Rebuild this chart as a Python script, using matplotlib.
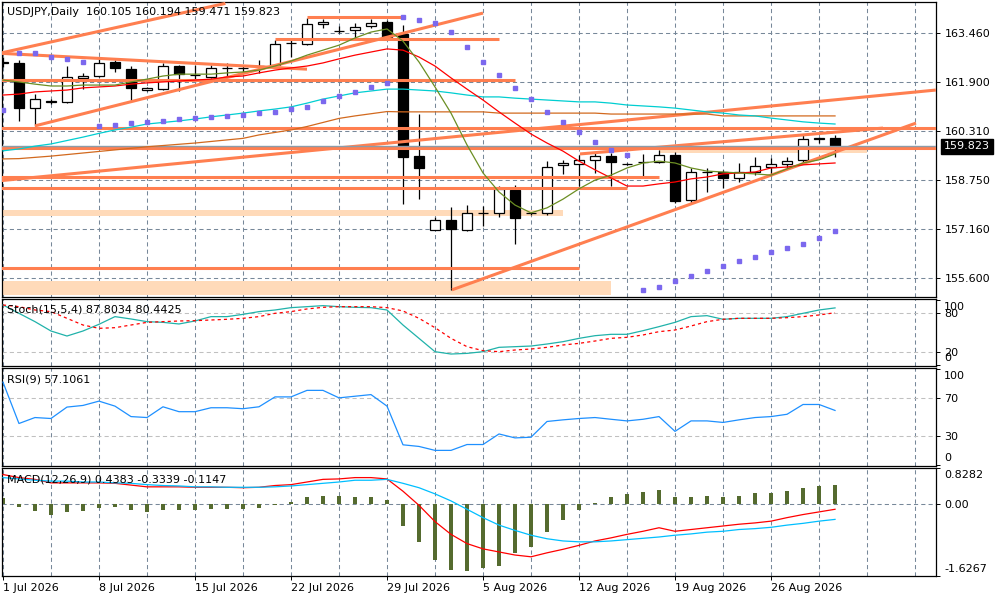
import matplotlib
matplotlib.use("Agg")
import matplotlib.pyplot as plt
import numpy as np

plt.rcParams['font.family'] = ['DejaVu Sans']
plt.rcParams['font.size'] = 8

# ---- values (one entry per daily bar) ----
opens = [162.53, 162.50, 161.05, 161.25, 161.25, 162.02, 162.08, 162.53, 162.31, 161.63,
         161.66, 162.40, 162.11, 162.05, 162.34, 162.33, 162.40, 162.43, 163.14, 163.11,
         163.75, 163.53, 163.56, 163.68, 163.81, 163.43, 159.51, 157.14, 157.46, 157.14,
         157.69, 157.69, 158.42, 157.67, 157.69, 159.23, 159.26, 159.39, 159.51, 159.26,
         159.32, 159.32, 159.55, 158.10, 159.00, 159.00, 158.81, 159.00, 159.16, 159.26,
         159.39, 160.06, 160.105]
highs = [162.69, 162.59, 161.50, 161.34, 162.40, 162.18, 162.69, 162.59, 162.40, 161.72,
         162.50, 162.43, 162.43, 162.43, 162.50, 162.43, 162.59, 163.24, 163.27, 163.94,
         163.91, 163.68, 163.78, 163.91, 163.88, 163.72, 160.86, 157.56, 157.88, 157.94,
         157.91, 158.55, 158.58, 157.72, 159.35, 159.39, 159.55, 159.61, 159.61, 159.30,
         159.58, 159.71, 159.64, 159.13, 159.13, 159.07, 159.29, 159.48, 159.45, 159.48,
         160.19, 160.12, 160.194]
lows = [162.37, 160.64, 160.48, 161.18, 161.22, 161.66, 162.06, 162.21, 161.28, 161.60,
        161.64, 161.60, 161.95, 162.03, 162.08, 162.21, 162.18, 162.41, 162.69, 163.09,
        163.62, 163.46, 163.30, 163.62, 163.30, 157.97, 158.13, 157.13, 155.22, 157.12,
        157.27, 157.56, 156.69, 157.62, 157.62, 158.94, 158.55, 158.97, 158.55, 159.22,
        158.87, 159.29, 158.01, 158.01, 158.36, 158.49, 158.68, 158.90, 158.87, 159.13,
        159.32, 159.93, 159.471]
closes = [162.50, 161.05, 161.34, 161.27, 162.05, 162.08, 162.50, 162.34, 161.70, 161.70,
          162.40, 162.14, 162.12, 162.34, 162.35, 162.34, 162.41, 163.11, 163.15, 163.75,
          163.81, 163.52, 163.65, 163.78, 163.33, 159.48, 159.13, 157.46, 157.17, 157.69,
          157.70, 158.46, 157.53, 157.69, 159.16, 159.29, 159.39, 159.51, 159.32, 159.27,
          159.33, 159.55, 158.07, 159.00, 159.01, 158.81, 159.00, 159.19, 159.26, 159.35,
          160.06, 160.10, 159.823]

ma_fast = [161.95, 161.89, 161.82, 161.76, 161.76, 161.79, 161.79, 161.79, 161.89, 161.98,
           162.08, 162.14, 162.14, 162.14, 162.18, 162.21, 162.27, 162.40, 162.56, 162.75,
           162.91, 163.07, 163.30, 163.49, 163.59, 163.20, 162.53, 161.73, 160.89, 159.87,
           158.97, 158.36, 157.94, 157.69, 157.85, 158.13, 158.46, 158.74, 158.90, 159.13,
           159.29, 159.35, 159.29, 159.13, 159.03, 159.00, 158.97, 158.94, 158.90, 159.10,
           159.29, 159.39, 159.58]
ma_mid = [161.47, 161.50, 161.57, 161.60, 161.63, 161.70, 161.73, 161.76, 161.82, 161.86,
          161.89, 161.92, 161.95, 161.98, 162.05, 162.08, 162.18, 162.27, 162.34, 162.40,
          162.50, 162.63, 162.75, 162.85, 162.95, 162.91, 162.69, 162.40, 162.02, 161.66,
          161.31, 160.93, 160.57, 160.22, 159.93, 159.67, 159.35, 159.07, 158.81, 158.55,
          158.55, 158.62, 158.68, 158.78, 158.84, 158.94, 158.97, 159.00, 159.13, 159.16,
          159.23, 159.26, 159.29]
ma_slow = [159.68, 159.74, 159.83, 159.90, 160.01, 160.12, 160.24, 160.35, 160.44, 160.54,
           160.59, 160.64, 160.70, 160.77, 160.83, 160.89, 160.96, 161.02, 161.09, 161.21,
           161.34, 161.44, 161.54, 161.60, 161.66, 161.66, 161.63, 161.60, 161.54, 161.47,
           161.41, 161.41, 161.37, 161.34, 161.31, 161.28, 161.25, 161.25, 161.21, 161.15,
           161.12, 161.09, 161.05, 160.99, 160.93, 160.89, 160.83, 160.80, 160.73, 160.67,
           160.61, 160.57, 160.54]
ma_slowest = [159.42, 159.43, 159.47, 159.51, 159.56, 159.61, 159.66, 159.71, 159.76, 159.81,
              159.85, 159.89, 159.93, 159.98, 160.03, 160.08, 160.19, 160.27, 160.35, 160.46,
              160.59, 160.72, 160.80, 160.87, 160.94, 160.93, 160.93, 160.93, 160.93, 160.93,
              160.93, 160.89, 160.89, 160.89, 160.89, 160.89, 160.89, 160.89, 160.86, 160.86,
              160.86, 160.86, 160.86, 160.86, 160.86, 160.80, 160.80, 160.80, 160.80, 160.80,
              160.80, 160.80, 160.80]
sar = [160.99, 162.82, 162.82, 162.69, 162.63, 162.53, 160.48, 160.51, 160.57, 160.61,
       160.64, 160.70, 160.73, 160.77, 160.80, 160.83, 160.89, 160.93, 161.02, 161.09,
       161.28, 161.44, 161.57, 161.73, 161.86, 163.97, 163.88, 163.78, 163.49, 163.01,
       162.53, 162.11, 161.70, 161.34, 160.93, 160.61, 160.28, 159.96, 159.71, 159.55,
       155.22, 155.31, 155.50, 155.66, 155.81, 155.97, 156.14, 156.27, 156.43, 156.56,
       156.69, 156.88, 157.11]

stoch_k = [92.3, 79.5, 66.7, 52.3, 44.6, 52.3, 62.6, 74.4, 70.8, 66.7,
           65.6, 63.1, 67.7, 74.4, 74.4, 77.9, 82.1, 84.6, 88.2, 89.7,
           91.3, 89.7, 88.7, 88.2, 84.6, 61.5, 41.0, 20.5, 16.9, 17.9,
           20.5, 27.2, 28.2, 29.2, 32.3, 35.9, 41.0, 45.1, 47.2, 47.2,
           52.8, 59.0, 65.6, 74.4, 75.9, 70.3, 71.8, 71.8, 71.8, 74.4,
           79.5, 84.6, 87.8]
stoch_d = [92.3, 89.7, 84.6, 82.1, 71.8, 61.5, 56.4, 57.4, 61.5, 65.6,
           66.7, 67.7, 68.2, 69.2, 70.3, 71.8, 74.4, 79.5, 82.1, 86.2,
           88.7, 89.7, 89.7, 89.7, 88.2, 83.1, 71.8, 57.4, 41.0, 28.2,
           22.1, 20.5, 23.1, 24.6, 27.2, 30.8, 33.3, 36.9, 41.0, 42.6,
           46.2, 51.3, 53.8, 60.0, 66.7, 70.3, 71.8, 71.8, 71.8, 72.8,
           74.4, 76.9, 80.4]
rsi = [86.6, 43.5, 49.7, 48.7, 60.6, 62.3, 66.8, 61.6, 50.7, 49.7,
       60.9, 55.8, 55.8, 59.9, 59.9, 58.9, 60.9, 71.2, 71.2, 78.0,
       78.0, 70.2, 71.9, 73.6, 61.6, 21.3, 19.6, 15.5, 15.5, 21.6,
       21.6, 32.6, 28.5, 29.2, 45.6, 47.3, 48.7, 49.7, 47.9, 46.2,
       47.9, 50.7, 35.3, 46.2, 46.2, 44.6, 47.3, 49.7, 50.7, 53.1,
       63.3, 63.3, 57.1]
macd_hist = [0.15, -0.06, -0.15, -0.24, -0.17, -0.15, -0.08, -0.06, -0.13, -0.17,
             -0.13, -0.13, -0.13, -0.11, -0.11, -0.11, -0.08, -0.02, 0.05, 0.17,
             0.20, 0.19, 0.18, 0.16, 0.10, -0.49, -0.86, -1.27, -1.49, -1.52,
             -1.44, -1.41, -1.10, -0.97, -0.63, -0.36, -0.13, 0.04, 0.17, 0.24,
             0.28, 0.32, 0.17, 0.18, 0.20, 0.18, 0.20, 0.25, 0.27, 0.30,
             0.38, 0.43, 0.44]
macd_red = [0.68, 0.61, 0.57, 0.49, 0.49, 0.49, 0.49, 0.48, 0.44, 0.40,
            0.40, 0.40, 0.39, 0.39, 0.39, 0.38, 0.39, 0.43, 0.45, 0.51,
            0.57, 0.58, 0.61, 0.61, 0.58, 0.30, -0.02, -0.39, -0.68, -0.89,
            -1.01, -1.08, -1.15, -1.19, -1.10, -1.02, -0.93, -0.83, -0.76, -0.68,
            -0.61, -0.53, -0.61, -0.57, -0.53, -0.49, -0.45, -0.42, -0.38, -0.30,
            -0.23, -0.17, -0.11]
macd_blue = [0.61, 0.58, 0.55, 0.53, 0.53, 0.51, 0.51, 0.49, 0.48, 0.45,
             0.43, 0.42, 0.40, 0.40, 0.39, 0.39, 0.39, 0.40, 0.42, 0.45,
             0.48, 0.51, 0.55, 0.55, 0.57, 0.48, 0.38, 0.24, 0.08, -0.11,
             -0.30, -0.47, -0.59, -0.70, -0.78, -0.83, -0.85, -0.85, -0.83, -0.80,
             -0.77, -0.74, -0.70, -0.67, -0.63, -0.61, -0.57, -0.55, -0.52, -0.47,
             -0.43, -0.38, -0.34]

# drawn objects: trend lines (bar0, price0, bar1, price1)
trend_lines = [(-0.2, 162.81, 13.9, 164.41),
               (-0.2, 162.81, 19.0, 162.30),
               (2.0, 160.48, 30.0, 164.10),
               (-0.2, 158.72, 58.3, 161.63),
               (28.06, 155.22, 57.06, 160.57),
               (36.06, 159.58, 55.0, 160.41)]
# horizontal segments (price, bar_from, bar_to)
level_segments = [(163.97, 19.0, 25.0),
                  (163.27, 17.0, 31.0),
                  (161.95, -0.2, 32.0),
                  (158.84, -0.2, 41.0),
                  (158.49, -0.2, 39.0),
                  (155.92, -0.2, 36.0)]
full_levels = [160.41, 159.77]
# shaded zones (price_lo, price_hi, bar_from, bar_to)
zones = [(157.59, 157.78, -0.2, 35.0),
         (155.05, 155.50, -0.2, 38.0),
         (159.61, 159.74, 41.0, 54.0)]

price_ticks = [163.460, 161.900, 160.310, 158.750, 157.160, 155.600]
date_bars = [0, 6, 12, 18, 24, 30, 36, 42, 48]
date_labels = ['1 Jul 2026', '8 Jul 2026', '15 Jul 2026', '22 Jul 2026', '29 Jul 2026',
               '5 Aug 2026', '12 Aug 2026', '19 Aug 2026', '26 Aug 2026']

W, H = 1000, 600
fig = plt.figure(figsize=(W / 100, H / 100), dpi=100)


def add_panel(top, bottom):
    # panel position in pixels from the top-left corner
    return fig.add_axes([2 / W, 1 - bottom / H, 934 / W, (bottom - top) / H])


ax = add_panel(2, 297)
ax_st = add_panel(299, 366)
ax_rsi = add_panel(368, 466)
ax_macd = add_panel(468, 576)

grid_col = '#778899'
level_col = '#C0C0C0'
coral = '#FF7F50'
peach = '#FFDAB9'
dash = (0, (4, 3))

n = len(closes)
x = np.arange(n)

for a in (ax, ax_st, ax_rsi, ax_macd):
    a.set_xlim(-0.06, 58.31)
    for s in a.spines.values():
        s.set_linewidth(0.9)
        s.set_color('black')
    for xv in range(0, 58, 3):
        a.axvline(xv, color=grid_col, lw=0.75, ls=dash, zorder=0.5)
    a.yaxis.tick_right()
    a.tick_params(axis='y', direction='out', length=3, width=0.7, pad=3, labelsize=8)
    a.tick_params(axis='x', length=0, labelbottom=False)


def edge_label(a, text, value, up):
    # min / max labels that sit inside the window, as in the terminal
    a.annotate(text, xy=(1, value), xycoords=('axes fraction', 'data'),
               xytext=(8, 2 if up else -2), textcoords='offset pixels',
               va='bottom' if up else 'top', ha='left', fontsize=8, annotation_clip=False)


# ---- main price panel ----
ax.set_ylim(154.99, 164.455)
ax.set_yticks(price_ticks)
ax.set_yticklabels([f'{p:.3f}' for p in price_ticks])
for p in price_ticks:
    ax.axhline(p, color=grid_col, lw=0.75, ls=dash, zorder=0.5)

for lo, hi, b0, b1 in zones:
    ax.fill_between([b0, b1], lo, hi, color=peach, lw=0, zorder=1)

o = np.array(opens)
c = np.array(closes)
up = c >= o
ax.vlines(x, lows, highs, color='black', lw=0.9, zorder=2)
ax.bar(x, np.abs(c - o), bottom=np.minimum(o, c), width=0.66,
       color=np.where(up, 'white', 'black'), edgecolor='black', lw=0.9, zorder=2.5)

for p, b0, b1 in level_segments:
    ax.hlines(p, b0, b1, color=coral, lw=2.2, zorder=3)
for p in full_levels:
    ax.axhline(p, color=coral, lw=2.2, zorder=3)
for b0, p0, b1, p1 in trend_lines:
    ax.plot([b0, b1], [p0, p1], color=coral, lw=2.2, zorder=3, solid_capstyle='butt')

ax.axhline(closes[-1], color='#8C9BA8', lw=1.0, zorder=3.2)

ax.plot(x, ma_slowest, color='#D2691E', lw=0.9, zorder=4)
ax.plot(x, ma_slow, color='#00CED1', lw=0.9, zorder=4)
ax.plot(x, ma_mid, color='red', lw=0.9, zorder=4)
ax.plot(x, ma_fast, color='#6B8E23', lw=0.9, zorder=4)
ax.plot(x, sar, ls='none', marker='s', ms=2.4, color='#7B68EE', zorder=4.5)

ax.annotate(f'{closes[-1]:.3f}', xy=(1, closes[-1]), xycoords=('axes fraction', 'data'),
            xytext=(8, 0), textcoords='offset pixels', va='center', ha='left',
            color='white', fontsize=8, annotation_clip=False,
            bbox=dict(boxstyle='square,pad=0.25', fc='black', ec='black'))
ax.annotate('USDJPY,Daily  %.3f %.3f %.3f %.3f' % (opens[-1], highs[-1], lows[-1], closes[-1]),
            xy=(0, 1), xycoords='axes fraction', xytext=(5, -10), textcoords='offset pixels',
            va='center', ha='left', fontsize=8, zorder=10)

# ---- stochastic ----
ax_st.set_ylim(-1.5, 101.5)
ax_st.set_yticks([0, 20, 80, 100])
ax_st.set_yticklabels(['', '20', '80', ''])
for lv in (20, 80):
    ax_st.axhline(lv, color=level_col, lw=0.75, ls=dash, zorder=0.6)
ax_st.plot(x, stoch_k, color='#20B2AA', lw=0.9, zorder=3)
ax_st.plot(x, stoch_d, color='red', lw=0.9, ls=(0, (2.5, 2.5)), zorder=3)
edge_label(ax_st, '100', 100, False)
edge_label(ax_st, '0', 0, True)
ax_st.annotate('Stoch(15,5,4) %.4f %.4f' % (87.8034, 80.4425), xy=(0, 1), xycoords='axes fraction',
               xytext=(5, -11), textcoords='offset pixels', va='center', ha='left', zorder=10)

# ---- RSI ----
ax_rsi.set_ylim(-0.77, 101.3)
ax_rsi.set_yticks([0, 30, 70, 100])
ax_rsi.set_yticklabels(['', '30', '70', ''])
for lv in (30, 70):
    ax_rsi.axhline(lv, color=level_col, lw=0.75, ls=dash, zorder=0.6)
ax_rsi.plot(x, rsi, color='#1E90FF', lw=0.9, zorder=3)
edge_label(ax_rsi, '100', 100, False)
edge_label(ax_rsi, '0', 0, True)
ax_rsi.annotate('RSI(9) %.4f' % 57.1061, xy=(0, 1), xycoords='axes fraction',
                xytext=(5, -12), textcoords='offset pixels', va='center', ha='left', zorder=10)

# ---- MACD ----
ax_macd.set_ylim(-1.6267, 0.8282)
ax_macd.set_yticks([-1.6267, 0, 0.8282])
ax_macd.set_yticklabels(['', '0.00', ''])
ax_macd.axhline(0, color=grid_col, lw=0.75, ls=dash, zorder=0.6)
ax_macd.bar(x, macd_hist, width=0.2, color='#556B2F', zorder=2)
ax_macd.plot(x, macd_red, color='red', lw=0.9, zorder=3)
ax_macd.plot(x, macd_blue, color='#00BFFF', lw=0.9, zorder=3)
edge_label(ax_macd, '0.8282', 0.8282, False)
edge_label(ax_macd, '-1.6267', -1.6267, True)
ax_macd.annotate('MACD(12,26,9) %.4f %.4f %.4f' % (0.4383, -0.3339, -0.1147), xy=(0, 1),
                 xycoords='axes fraction', xytext=(5, -12), textcoords='offset pixels',
                 va='center', ha='left', zorder=10)
ax_macd.set_xticks(date_bars)
ax_macd.set_xticklabels(date_labels, ha='left')
ax_macd.tick_params(axis='x', length=3, width=0.7, pad=2, labelbottom=True, labelsize=8)

fig.savefig('out.png', dpi=100, facecolor='white')
